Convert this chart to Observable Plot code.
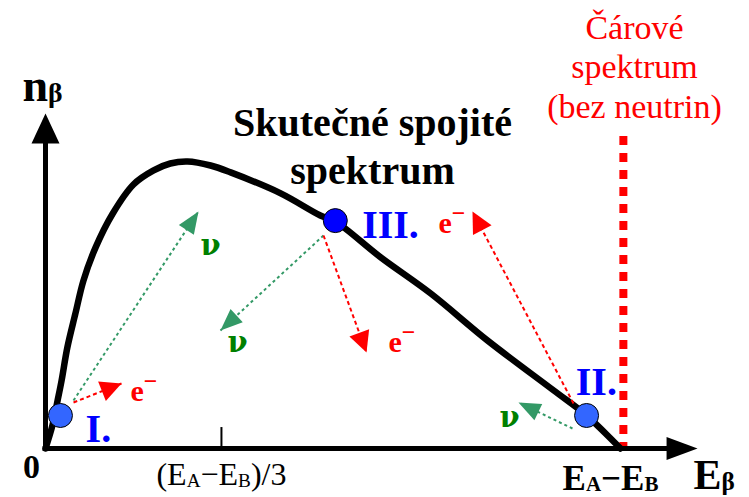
<!DOCTYPE html>
<html><head><meta charset="utf-8">
<script src="https://cdn.jsdelivr.net/npm/d3@7"></script>
<script src="https://cdn.jsdelivr.net/npm/@observablehq/plot@0.6"></script>
<style>body{margin:0;background:#fff} svg{display:block}</style>
</head><body><div id="chart"></div>
<script>
// Energy in units of (E_A − E_B); intensity n_β normalised to the peak
const curveE = [0, 0.012, 0.021, 0.028, 0.038, 0.052, 0.066, 0.087, 0.117, 0.153, 0.188, 0.217, 0.247, 0.287, 0.322, 0.409, 0.478, 0.504, 0.583, 0.670, 0.769, 0.884, 0.941, 1.0];
const curveN = [0, 0.080, 0.167, 0.237, 0.352, 0.470, 0.585, 0.700, 0.819, 0.920, 0.969, 0.993, 1.0, 0.986, 0.962, 0.889, 0.812, 0.791, 0.666, 0.540, 0.376, 0.202, 0.115, 0];

// Decay examples on the curve
const pointNames = ["I.", "III.", "II."];
const pointE = [0.026, 0.504, 0.941];
const pointN = [0.115, 0.794, 0.115];
const pointNameE = [0.092, 0.600, 0.958];
const pointNameN = [0.024, 0.735, 0.185];

// Momentum arrows of the particles
const arrowParticle = ["ν", "e", "ν", "e", "e", "ν"];
const arrowLabel = ["ν", "e^−", "ν", "e^−", "e^−", "ν"];
const arrowFromE = [0.0487, 0.0487, 0.4835, 0.4835, 0.9183, 0.9165];
const arrowFromN = [0.1672, 0.1603, 0.7422, 0.7422, 0.1568, 0.0697];
const arrowToE = [0.2661, 0.1322, 0.3043, 0.5583, 0.7426, 0.8226];
const arrowToN = [0.8258, 0.2265, 0.4111, 0.3345, 0.8258, 0.1603];
const arrowLabelE = [0.2696, 0.1478, 0.3165, 0.5965, 0.6835, 0.7896];
const arrowLabelN = [0.6725, 0.1672, 0.3345, 0.3345, 0.7526, 0.0732];

// Axes, tick and line spectrum
const tickE = [0.306];
const tickLabel = ["(E_A−E_B)/3"];
const endLabel = ["E_A−E_B"];
const lineSpectrumE = [1.005];
const lineSpectrumTop = 1.087;
const xAxisEnd = 1.134, yAxisEnd = 1.167;
const titleText = "Skutečné spojité\nspektrum";
const lineText = "Čárové\nspektrum\n(bez neutrin)";

const xs = {domain: [0, 1], range: [45, 620]};
const ys = {domain: [0, 1], range: [448, 161]};
const X = d3.scaleLinear(xs.domain, xs.range), Y = d3.scaleLinear(ys.domain, ys.range);

const curve = curveE.map((e, i) => ({e, n: curveN[i]}));
const points = pointNames.map((name, i) => ({name, e: pointE[i], n: pointN[i], le: pointNameE[i], ln: pointNameN[i]}));
const arrows = arrowParticle.map((p, i) => ({p, label: arrowLabel[i], fe: arrowFromE[i], fn: arrowFromN[i], te: arrowToE[i], tn: arrowToN[i], le: arrowLabelE[i], ln: arrowLabelN[i]}));
const angle = d => Math.atan2(X(d.te) - X(d.fe), -(Y(d.tn) - Y(d.fn))) * 180 / Math.PI;
const head = (L, W) => ({draw(c) { c.moveTo(0, 0); c.lineTo(W / 2, L); c.lineTo(-W / 2, L); c.closePath(); }});
const nu = arrows.filter(d => d.p === "ν"), el = arrows.filter(d => d.p === "e");
const GREEN = "#339966", NUTEXT = "#008000", RED = "#ff0000";

const plot = Plot.plot({
  width: 749, height: 497, margin: 0,
  x: {...xs, axis: null}, y: {...ys, axis: null},
  style: {fontFamily: '"Liberation Serif", "DejaVu Serif", serif', background: "#fff", overflow: "visible"},
  marks: [
    Plot.ruleX(lineSpectrumE, {y1: lineSpectrumTop, y2: 0, stroke: RED, strokeWidth: 8, strokeDasharray: "9,8"}),
    Plot.ruleY([0], {x1: -0.004, x2: xAxisEnd - 0.04, stroke: "black", strokeWidth: 5}),
    Plot.ruleX([0], {y1: -0.008, y2: yAxisEnd - 0.08, stroke: "black", strokeWidth: 5}),
    Plot.dot([{e: xAxisEnd, n: 0}], {x: "e", y: "n", symbol: head(31, 23), rotate: 90, fill: "black", r: 1}),
    Plot.dot([{e: 0, n: yAxisEnd}], {x: "e", y: "n", symbol: head(30, 28), rotate: 0, fill: "black", r: 1}),
    Plot.ruleX(tickE, {y1: 0, y2: 0.073, stroke: "black", strokeWidth: 2}),
    Plot.line(curve, {x: "e", y: "n", stroke: "black", strokeWidth: 6.5, curve: "catmull-rom"}),
    Plot.link(nu, {x1: "fe", y1: "fn", x2: "te", y2: "tn", stroke: GREEN, strokeWidth: 2, strokeDasharray: "3,3"}),
    Plot.link(el, {x1: "fe", y1: "fn", x2: "te", y2: "tn", stroke: RED, strokeWidth: 2, strokeDasharray: "4,3"}),
    Plot.dot(nu, {x: "te", y: "tn", symbol: head(22, 18), rotate: angle, fill: GREEN, r: 1}),
    Plot.dot(el, {x: "te", y: "tn", symbol: head(21, 21), rotate: angle, fill: RED, r: 1}),
    Plot.dot(points, {x: "e", y: "n", r: 12, fill: d => d.name === "III." ? "#0000ff" : "#3366ff", stroke: "black", strokeWidth: 1}),
    Plot.text(points, {x: "le", y: "ln", text: "name", fill: "#0000ff", fontSize: 40, fontWeight: "bold", lineAnchor: "bottom"}),
    Plot.text(nu, {x: "le", y: "ln", text: "label", fill: NUTEXT, fontSize: 29, fontWeight: "bold", fontFamily: '"DejaVu Serif", serif', textAnchor: "start", lineAnchor: "bottom"}),
    Plot.text(el, {x: "le", y: "ln", text: "label", fill: RED, fontSize: 30, fontWeight: "bold", textAnchor: "start", lineAnchor: "bottom", className: "rich"}),
    Plot.text([titleText], {x: 0.5687, y: 0.9233, text: d => d, fontSize: 40, fontWeight: "bold", lineHeight: 1.2, lineAnchor: "bottom", fill: "black"}),
    Plot.text([lineText], {x: 1.0243, y: 1.1533, text: d => d, fontSize: 34, lineHeight: 1.16, lineAnchor: "bottom", fill: RED}),
    Plot.text(["0"], {x: -0.0243, y: -0.1045, text: d => d, fontSize: 34, fontWeight: "bold", lineAnchor: "bottom", fill: "black"}),
    Plot.text(tickLabel, {x: tickE, y: -0.1289, text: d => d, fontSize: 32, lineAnchor: "bottom", fill: "black", className: "rich"}),
    Plot.text(endLabel, {x: 0.9826, y: -0.1443, text: d => d, fontSize: 35, fontWeight: "bold", lineAnchor: "bottom", fill: "black", className: "rich"}),
    Plot.text(["E_β"], {x: 1.127, y: -0.1394, text: d => d, fontSize: 42, fontWeight: "bold", textAnchor: "start", lineAnchor: "bottom", fill: "black", className: "rich"}),
    Plot.text(["n_β"], {x: -0.040, y: 1.2125, text: d => d, fontSize: 46, fontWeight: "bold", textAnchor: "start", lineAnchor: "bottom", fill: "black", className: "rich"})
  ]
});
document.getElementById("chart").appendChild(plot);

// sub/superscripts: "_X" -> subscript, "^X" -> superscript
function richify(t) {
  const s = t.textContent, fs = parseFloat(getComputedStyle(t).fontSize);
  t.textContent = "";
  let shift = 0;
  const add = (txt, kind) => {
    const ts = document.createElementNS("http://www.w3.org/2000/svg", "tspan");
    ts.textContent = txt;
    const target = kind === "sup" ? -0.4 * fs : kind === "sub" ? 0.04 * fs : 0;
    if (target !== shift) { ts.setAttribute("dy", target - shift); shift = target; }
    if (kind) ts.setAttribute("font-size", (kind === "sup" ? 0.8 : 0.6) * fs);
    t.appendChild(ts);
  };
  const re = /([_^])(.)/g; let last = 0, m;
  while ((m = re.exec(s))) {
    if (m.index > last) add(s.slice(last, m.index), null);
    add(m[2], m[1] === "_" ? "sub" : "sup");
    last = re.lastIndex;
  }
  if (last < s.length) add(s.slice(last), null);
}
d3.select(plot).selectAll(".rich text").each(function () { richify(this); });
</script>
</body></html>
